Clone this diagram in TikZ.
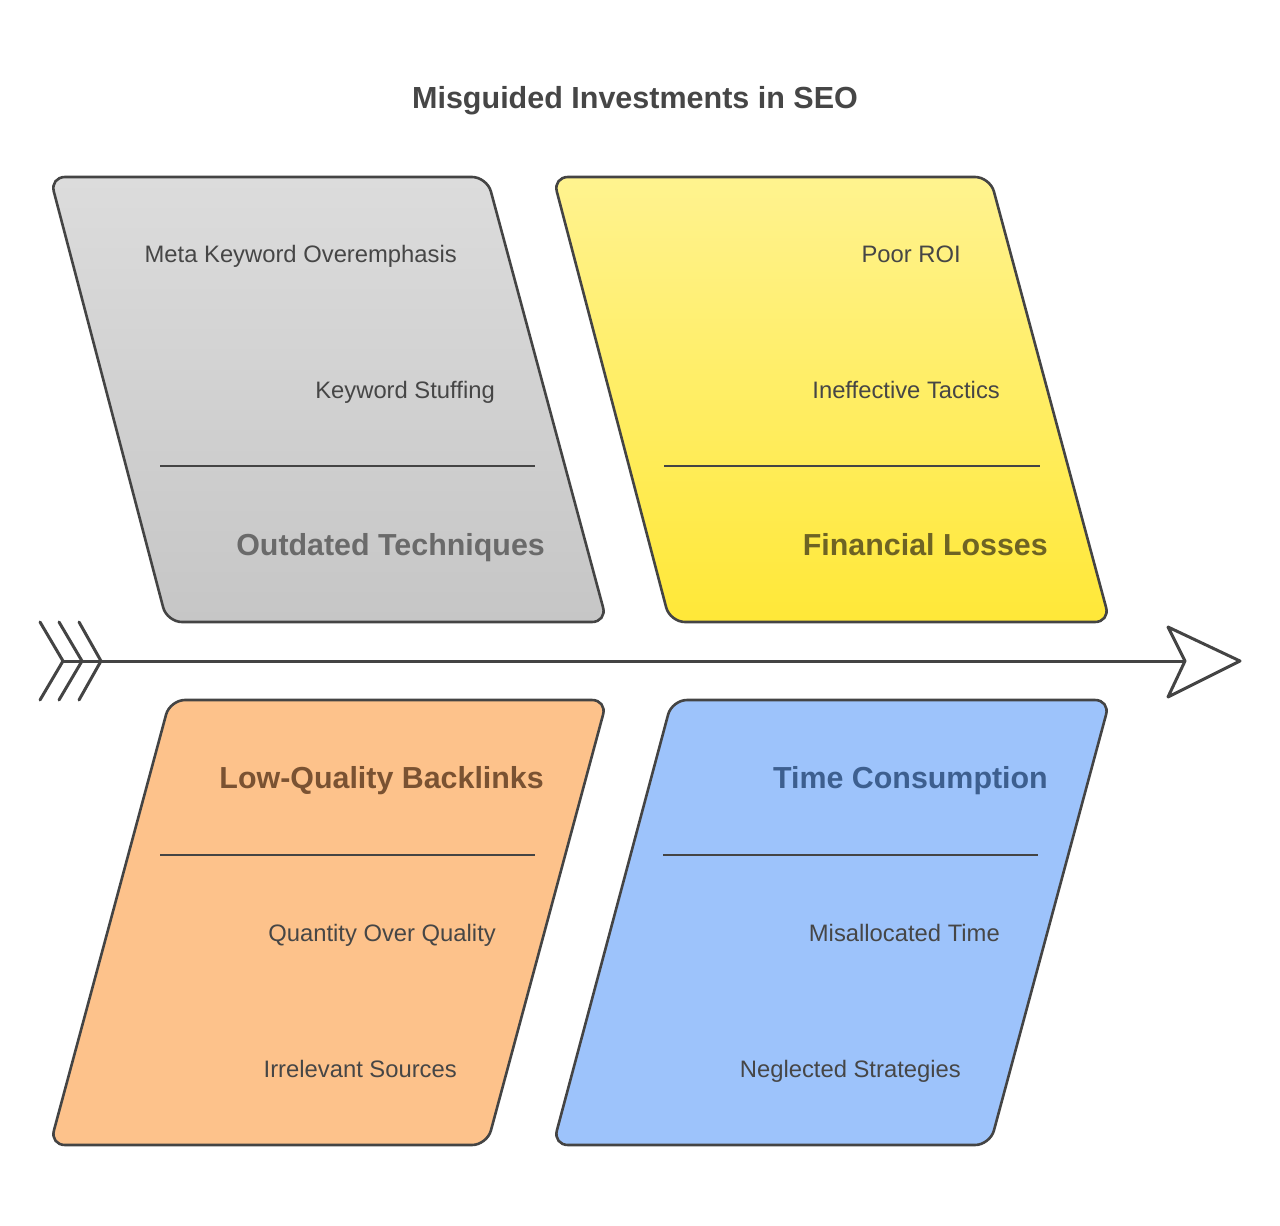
\documentclass[tikz,border=0pt]{standalone}
\usepackage{fontspec}
\setmainfont{Liberation Sans}
\definecolor{edge}{HTML}{444444}
\definecolor{txt}{HTML}{464646}
\definecolor{grayT}{HTML}{DCDCDC}
\definecolor{grayB}{HTML}{C6C6C6}
\definecolor{yelT}{HTML}{FFF38F}
\definecolor{yelB}{HTML}{FFE838}
\definecolor{orng}{HTML}{FDC28B}
\definecolor{blu}{HTML}{9DC3FB}
\definecolor{hgray}{HTML}{6A6A6A}
\definecolor{hyel}{HTML}{6E6324}
\definecolor{horng}{HTML}{7A5232}
\definecolor{hblu}{HTML}{3D5F8F}
\tikzset{
  panel/.style={draw=edge, line width=2.6pt, rounded corners=15pt, line join=round},
  item/.style={anchor=east, text=txt, font=\fontsize{23.8}{27}\selectfont, inner sep=0pt, text height=17pt, text depth=5pt},
  head/.style={anchor=east, font=\fontsize{30.4}{34}\selectfont\bfseries, inner sep=0pt, text height=22pt, text depth=6pt},
  sep/.style={draw=edge, line width=2.6pt},
  axis/.style={draw=edge, line width=3pt, line join=miter, line cap=round},
}
\begin{document}
\begin{tikzpicture}[x=1pt,y=-1pt]
\useasboundingbox (0,0) rectangle (1280,1226);
% title
\node[font=\fontsize{30.5}{34}\selectfont\bfseries, text=txt, inner sep=0pt, text height=22pt, text depth=6pt] (title) at (635,100) {Misguided Investments in SEO};
% panels
\path[panel, top color=grayT, bottom color=grayB] (50,177) -- (487,177) -- (607,622) -- (167,622) -- cycle;
\path[panel, top color=yelT, bottom color=yelB] (553,177) -- (990,177) -- (1110,622) -- (670,622) -- cycle;
\path[panel, fill=orng] (170,700) -- (607,700) -- (487,1145) -- (50,1145) -- cycle;
\path[panel, fill=blu] (672,700) -- (1110,700) -- (990,1145) -- (553,1145) -- cycle;
% separators
\coordinate (s1a) at (160,466); \coordinate (s1b) at (535,466);
\coordinate (s2a) at (664,466); \coordinate (s2b) at (1040,466);
\coordinate (s3a) at (160,855); \coordinate (s3b) at (535,855);
\coordinate (s4a) at (663,855); \coordinate (s4b) at (1038,855);
\draw[sep] (s1a) -- (s1b);
\draw[sep] (s2a) -- (s2b);
\draw[sep] (s3a) -- (s3b);
\draw[sep] (s4a) -- (s4b);
% texts gray
\node[item] (g1) at (457,256) {Meta Keyword Overemphasis};
\node[item] (g2) at (495,392) {Keyword Stuffing};
\node[head, text=hgray] (gh) at (545,547) {Outdated Techniques};
% yellow
\node[item] (y1) at (961,256) {Poor ROI};
\node[item] (y2) at (1000,392) {Ineffective Tactics};
\node[head, text=hyel] (yh) at (1048,547) {Financial Losses};
% orange
\node[head, text=horng] (oh) at (544,780) {Low-Quality Backlinks};
\node[item] (o1) at (496,935) {Quantity Over Quality};
\node[item] (o2) at (457,1071) {Irrelevant Sources};
% blue
\node[head, text=hblu] (bh) at (1048,780) {Time Consumption};
\node[item] (b1) at (1000,935) {Misallocated Time};
\node[item] (b2) at (961,1071) {Neglected Strategies};
% axis
\coordinate (tail) at (63,661);
\coordinate (notch) at (1185,661);
\draw[axis] (tail) -- (notch);
\draw[axis] (40,622) -- (63,661) -- (40,700);
\draw[axis] (59,622) -- (82,661) -- (59,700);
\draw[axis] (79,622) -- (101,661) -- (79,700);
\draw[axis, fill=white, line join=round] (notch) -- (1168,627) -- (1240,661) -- (1168,697) -- cycle;
\end{tikzpicture}
\end{document}
